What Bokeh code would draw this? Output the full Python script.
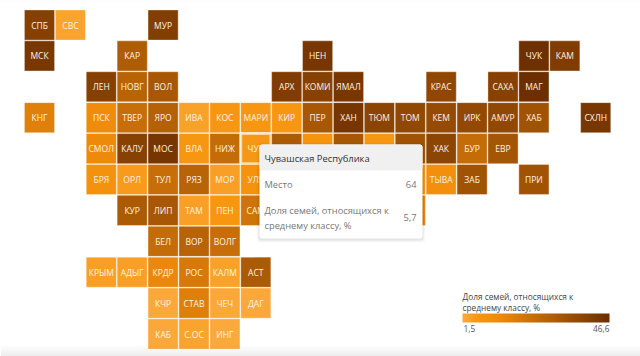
from bokeh.plotting import figure
from bokeh.models import ColumnDataSource, LinearColorMapper, ColorBar, BoxAnnotation, Label, FixedTicker
from bokeh.core.properties import value
from bokeh.transform import transform
from bokeh.embed import file_html
from bokeh.resources import INLINE

codes = ["СПБ","СВС","МУР","МСК","КАР","НЕН","ЧУК","КАМ","ЛЕН","НОВГ","ВОЛ","АРХ","КОМИ","ЯМАЛ","КРАС","САХА","МАГ",
         "КНГ","ПСК","ТВЕР","ЯРО","ИВА","КОС","МАРИ","КИР","ПЕР","ХАН","ТЮМ","ТОМ","КЕМ","ИРК","АМУР","ХАБ","СХЛН",
         "СМОЛ","КАЛУ","МОС","ВЛА","НИЖ","ЧУВ","ТАТ","УДМ","СВЕ","КУРГ","НОВС","ХАК","БУР","ЕВР",
         "БРЯ","ОРЛ","ТУЛ","РЯЗ","МОР","УЛЬ","АЛТ","ТЫВА","ЗАБ","ПРИ",
         "КУР","ЛИП","ТАМ","ПЕН","САМ","ОМС",
         "БЕЛ","ВОР","ВОЛГ",
         "КРЫМ","АДЫГ","КРДР","РОС","КАЛМ","АСТ",
         "КЧР","СТАВ","ЧЕЧ","ДАГ",
         "КАБ","С.ОС","ИНГ"]
cols = [0,1,4,0,3,9,16,17,2,3,4,8,9,10,13,15,16,
        0,2,3,4,5,6,7,8,9,10,11,12,13,14,15,16,18,
        2,3,4,5,6,7,8,9,10,11,12,13,14,15,
        2,3,4,5,6,7,12,13,14,16,
        3,4,5,6,7,12,
        4,5,6,
        2,3,4,5,6,7,
        4,5,6,7,
        4,5,6]
rows = [0,0,0,1,1,1,1,1,2,2,2,2,2,2,2,2,2,
        3,3,3,3,3,3,3,3,3,3,3,3,3,3,3,3,3,
        4,4,4,4,4,4,4,4,4,4,4,4,4,4,
        5,5,5,5,5,5,5,5,5,5,
        6,6,6,6,6,6,
        7,7,7,
        8,8,8,8,8,8,
        9,9,9,9,
        10,10,10]
shares = [40,3,40.7,43,29.6,43.5,45.8,41.4,40,27,31,41.4,39.4,43.5,37.3,39.4,46,
          16.7,12,23,27.8,3.5,6,6,6,31,44,38.6,37,36,36.5,37,33,43.5,
          13,39.5,44,6,24,5.7,30,7,31,6,33,38,24,32,
          9,5,23,27,4,8,7,10,33,33,
          30,31,4,6,21,15,
          24,27,23,
          4,4,14,19,3.5,30,
          2,17,2,2,
          2,3,1.8]
place = ["64"]
share_shown = ["5,7"]
legend_ticks = ["1,5","46,6"]
legend_title = ["Доля семей, относящихся к","среднему классу, %"]
tip_title = "Чувашская Республика"
tip_rows = ["Место","Доля семей, относящихся к","среднему классу, %"]

W, H = 640, 356
PITCH = 30.9
X0, Y0 = 39.0, 24.5

def hexmix(a, b, t):
    a = [int(a[i:i+2],16) for i in (1,3,5)]
    b = [int(b[i:i+2],16) for i in (1,3,5)]
    return "#%02x%02x%02x" % tuple(round(x+(y-x)*t) for x,y in zip(a,b))

palette = [hexmix("#fbaa3e","#f7960f",i/26) for i in range(26)] + \
          [hexmix("#f7960f","#ef8a0b",i/38) for i in range(38)] + \
          [hexmix("#ef8a0b","#6c2e00",i/191) for i in range(192)]
mapper = LinearColorMapper(palette=palette, low=1.5, high=46.6)

src = ColumnDataSource(dict(
    code=codes, col=cols, row=rows, share=shares,
    lw=[3 if c=="ЧУВ" else 0.6 for c in codes],
    w=[0.975]*len(codes),
))

p = figure(width=W, height=H, output_backend="svg", toolbar_location=None,
           x_range=(-X0/PITCH,(W-X0)/PITCH), y_range=((H-Y0)/PITCH,-Y0/PITCH),
           min_border=0, outline_line_color=None, tools="")
p.xaxis.visible = False
p.yaxis.visible = False
p.grid.visible = False

p.rect("col","row",width="w",height="w",source=src,
       fill_color=transform("share",mapper),line_color="white",line_alpha=0.6,line_width="lw")
p.text("col","row",text="code",source=src,text_color="#fff4e4",text_align="center",text_baseline="middle",
       text_font=value("Open Sans"),text_font_size="8.5px",text_font_style="normal")

def box(l,t,r,b,**kw):
    a = BoxAnnotation(left=l,right=r,top=H-t,bottom=H-b,left_units="screen",right_units="screen",
                      top_units="screen",bottom_units="screen",line_color=None,level="overlay",**kw)
    p.add_layout(a)
def lab(x,y,text,color,size="9.3px",align="left"):
    p.add_layout(Label(x=x,y=H-y,x_units="screen",y_units="screen",text=text,text_color=color,
                       text_font="Open Sans",text_font_size=size,text_align=align,text_baseline="middle",level="overlay"))

# tooltip
for d,a in ((3,0.02),(2,0.03),(1,0.05)):
    box(259-d,144-d+1,422+d,238+d+1,fill_color="#000000",fill_alpha=a,border_radius=3)
box(259,144,422,238,fill_color="#ffffff",fill_alpha=1,border_radius=3)
box(259,144,422,170,fill_color="#f0f0f0",fill_alpha=1,border_radius=3)
lab(264,158,tip_title,"#333333","9.4px")
lab(264,184,tip_rows[0],"#777777")
lab(264,210,tip_rows[1],"#777777")
lab(264,225,tip_rows[2],"#777777")
lab(416,184,place[0],"#777777",align="right")
lab(416,217,share_shown[0],"#777777",align="right")

# legend
cb = ColorBar(color_mapper=mapper,location=(462,H-322),width=147,height=9,ticker=FixedTicker(ticks=[]),
              major_tick_line_color=None,padding=0,margin=0,bar_line_color=None,
              background_fill_color=None,border_line_color=None,title=None,orientation="horizontal")
p.add_layout(cb,"center")
lab(462,295.7,legend_title[0],"#444444","8.3px")
lab(462,307.3,legend_title[1],"#444444","8.3px")
lab(463,328,legend_ticks[0],"#555555","8.3px")
lab(609,328,legend_ticks[1],"#555555","8.3px",align="right")

# page edge fades
for y in range(345,356,2):
    box(0,y,W,H,fill_color="#000000",fill_alpha=0.011)
box(0,0,W,1,fill_color="#000000",fill_alpha=0.03)

open("out.html","w").write(file_html(p,INLINE))
